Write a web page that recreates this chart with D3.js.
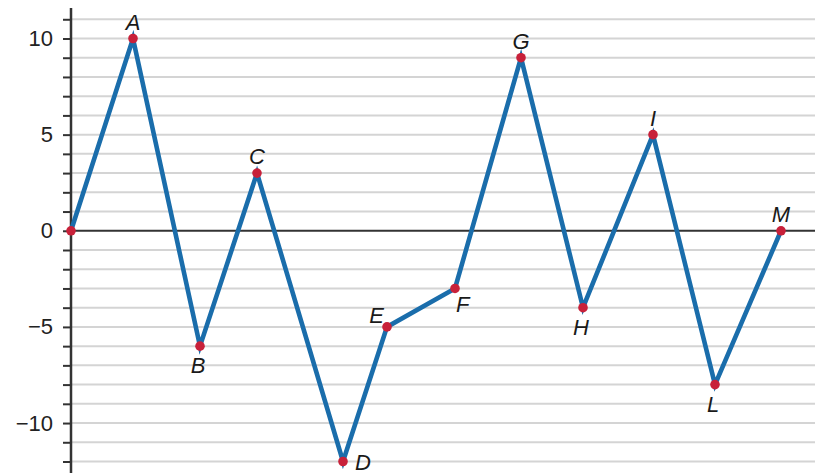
<!DOCTYPE html>
<html>
<head>
<meta charset="utf-8">
<script src="https://cdn.jsdelivr.net/npm/d3@7"></script>
<style>
  body { margin: 0; background: #fff; }
  svg { display: block; }
  text { font-family: "Liberation Sans", Arial, Helvetica, sans-serif; }
</style>
</head>
<body>
<div id="chart"></div>
<script>
// Data
const pointNames = ['', 'A', 'B', 'C', 'D', 'E', 'F', 'G', 'H', 'I', 'L', 'M'];
const xValues = [0, 6.2, 12.9, 18.6, 27.2, 31.6, 38.4, 45.0, 51.2, 58.2, 64.4, 71.0];
const yValues = [0, 10, -6, 3, -12, -5, -3, 9, -4, 5, -8, 0];
const yTickLabels = [-10, -5, 0, 5, 10];

const WIDTH = 815, HEIGHT = 473;
const AXIS_X = 71;

const svg = d3.select('#chart').append('svg')
    .attr('width', WIDTH)
    .attr('height', HEIGHT);

const xScale = d3.scaleLinear().domain([0, 74.4]).range([AXIS_X, WIDTH]);
const yScale = d3.scaleLinear().domain([-12, 10]).range([461.5, 38.5]);

// light grid, one line per unit
const gridVals = d3.range(-12, 12);
svg.append('g')
    .selectAll('line')
    .data(gridVals.filter(d => d !== 0))
    .join('line')
    .attr('x1', AXIS_X + 1)
    .attr('x2', WIDTH)
    .attr('y1', d => yScale(d))
    .attr('y2', d => yScale(d))
    .attr('stroke', '#d4d4d4')
    .attr('stroke-width', 2);

// zero line
svg.append('line')
    .attr('x1', AXIS_X)
    .attr('x2', WIDTH)
    .attr('y1', yScale(0))
    .attr('y2', yScale(0))
    .attr('stroke', '#333')
    .attr('stroke-width', 2);

// y axis with a tick at every unit, labels only at multiples of 5
const yAxis = d3.axisLeft(yScale)
    .tickValues(gridVals)
    .tickSize(8)
    .tickPadding(10)
    .tickFormat(d => yTickLabels.includes(d) ? d3.format('')(d).replace('-', '\u2212') : '');

const axisG = svg.append('g')
    .attr('transform', `translate(${AXIS_X},0)`)
    .call(yAxis);
axisG.select('.domain').remove();
axisG.selectAll('.tick line').attr('stroke', '#333').attr('stroke-width', 2);
axisG.selectAll('.tick text')
    .attr('fill', '#222')
    .style('font-size', '22px')
    .style('font-family', '"Liberation Sans", Arial, Helvetica, sans-serif');

svg.append('line')
    .attr('x1', AXIS_X)
    .attr('x2', AXIS_X)
    .attr('y1', 8)
    .attr('y2', HEIGHT)
    .attr('stroke', '#333')
    .attr('stroke-width', 2.5);

// the path
const points = xValues.map((x, i) => ({ x, y: yValues[i], name: pointNames[i] }));

const line = d3.line()
    .x(d => xScale(d.x))
    .y(d => yScale(d.y));

svg.append('path')
    .datum(points)
    .attr('d', line)
    .attr('fill', 'none')
    .attr('stroke', '#1a6dab')
    .attr('stroke-width', 4.6)
    .attr('stroke-linejoin', 'miter');

svg.append('g')
    .selectAll('circle')
    .data(points)
    .join('circle')
    .attr('cx', d => xScale(d.x))
    .attr('cy', d => yScale(d.y))
    .attr('r', 4.8)
    .attr('fill', '#c8213a');

// where each letter sits relative to its point
const placement = {
    A: 'above', B: 'below', C: 'above', D: 'right', E: 'upleft', F: 'downright',
    G: 'above', H: 'below', I: 'above', L: 'below', M: 'above'
};
const offsets = {
    above:     { dx: 0,   dy: -9,  anchor: 'middle' },
    below:     { dx: -2,  dy: 27,  anchor: 'middle' },
    right:     { dx: 12,  dy: 8,   anchor: 'start' },
    upleft:    { dx: -3,  dy: -4,  anchor: 'end' },
    downright: { dx: 1,   dy: 24,  anchor: 'start' }
};

svg.append('g')
    .selectAll('text')
    .data(points.filter(d => d.name))
    .join('text')
    .attr('x', d => xScale(d.x) + offsets[placement[d.name]].dx)
    .attr('y', d => yScale(d.y) + offsets[placement[d.name]].dy)
    .attr('text-anchor', d => offsets[placement[d.name]].anchor)
    .attr('font-style', 'italic')
    .attr('font-size', 22)
    .attr('fill', '#1a1a1a')
    .text(d => d.name);
</script>
</body>
</html>
